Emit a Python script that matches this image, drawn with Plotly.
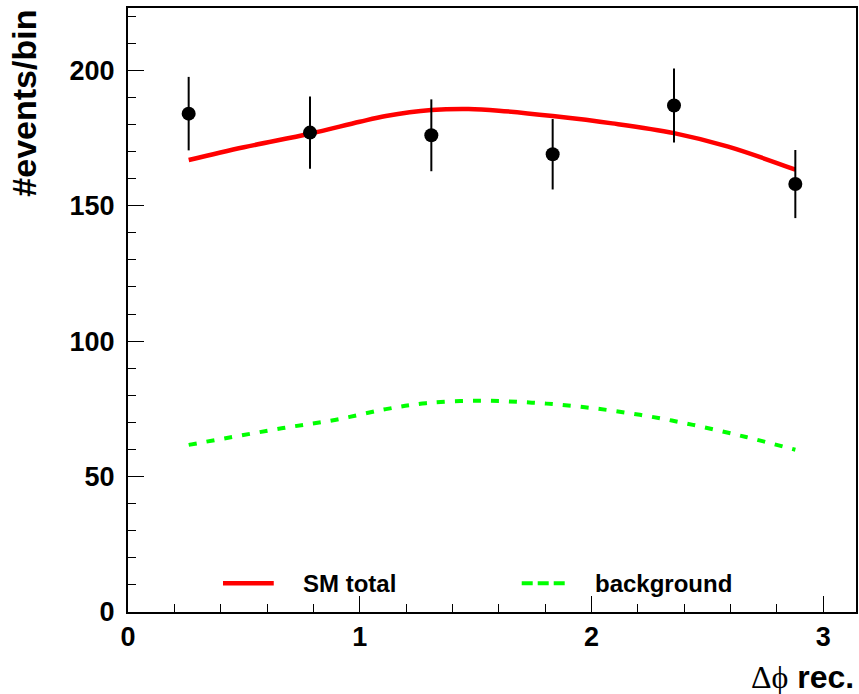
import numpy as np
import plotly.graph_objects as go

# Observed events per Δφ bin (6 bins over [0, π])
n_bins = 6
bin_centers = [(k + 0.5) * np.pi / n_bins for k in range(n_bins)]
data_counts = [184, 177, 176, 169, 187, 158]
data_errors = [np.sqrt(v) for v in data_counts]

# SM total prediction
sm_x = [0.262, 0.50, 0.785, 1.00, 1.113, 1.309, 1.47, 1.60, 1.833, 2.09, 2.356, 2.59, 2.880]
sm_y = [166.9, 171.6, 176.6, 181.0, 183.1, 185.3, 185.7, 185.1, 183.1, 180.4, 176.8, 171.8, 163.3]

# Background prediction
bg_x = [0.262, 0.669, 0.898, 1.113, 1.285, 1.514, 1.743, 1.972, 2.209, 2.438, 2.667, 2.880]
bg_y = [61.7, 67.9, 71.0, 74.9, 77.1, 78.0, 77.3, 75.6, 72.8, 69.1, 64.6, 59.9]

FONT = "Liberation Sans"

fig = go.Figure()

fig.add_trace(go.Scatter(
    x=bg_x, y=bg_y, mode="lines", line_shape="spline",
    line=dict(color="#00ff00", width=4, dash="8px,10px"),
    showlegend=False, hoverinfo="skip",
))
fig.add_trace(go.Scatter(
    x=sm_x, y=sm_y, mode="lines", line_shape="spline",
    line=dict(color="#ff0000", width=4.5),
    showlegend=False, hoverinfo="skip",
))
fig.add_trace(go.Scatter(
    x=bin_centers, y=data_counts, mode="markers",
    marker=dict(color="black", size=14),
    error_y=dict(type="data", array=data_errors, color="black", thickness=2, width=0),
    showlegend=False,
))

# Legend drawn inside the frame
LEG_Y = 10.6
fig.add_shape(type="line", xref="x", yref="y", x0=0.410, x1=0.629, y0=LEG_Y, y1=LEG_Y,
              line=dict(color="#ff0000", width=4.5))
fig.add_shape(type="line", xref="x", yref="y", x0=1.699, x1=1.888, y0=LEG_Y, y1=LEG_Y,
              line=dict(color="#00ff00", width=4, dash="11px,5px"))
fig.add_annotation(xref="x", yref="y", x=0.745, y=LEG_Y, text="<b>SM total</b>",
                   showarrow=False, xanchor="left", yanchor="middle",
                   font=dict(family=FONT, size=24, color="black"))
fig.add_annotation(xref="x", yref="y", x=2.005, y=LEG_Y, text="<b>background</b>",
                   showarrow=False, xanchor="left", yanchor="middle",
                   font=dict(family=FONT, size=24, color="black"))

# Axis titles
fig.add_annotation(xref="paper", yref="paper", x=-0.144, y=1.0,
                   text="<b>#events/bin</b>", textangle=-90, showarrow=False,
                   xanchor="center", yanchor="top",
                   font=dict(family=FONT, size=34, color="black"))
fig.add_annotation(xref="paper", yref="paper", x=1.0, y=-0.108,
                   text="<span style='font-family:Liberation Serif'>Δϕ</span> <b>rec.</b>",
                   showarrow=False, xanchor="right", yanchor="middle",
                   font=dict(family=FONT, size=32, color="black"))

axis_common = dict(
    showline=True, linecolor="black", linewidth=2, mirror=True,
    showgrid=False, zeroline=False,
    ticks="inside", ticklen=16, tickwidth=1, tickcolor="black",
    tickfont=dict(family=FONT, size=27, color="black", weight="bold"),
)

fig.update_xaxes(
    range=[0, np.pi], tickmode="array", tickvals=[0, 1, 2, 3], ticktext=["0", "1", "2", "3"],
    minor=dict(ticks="inside", ticklen=8, tickwidth=1, tickcolor="black", dtick=0.2, tick0=0),
    ticklabelstandoff=0,
    **axis_common,
)
fig.update_yaxes(
    range=[0, 223], tickmode="array", tickvals=[0, 50, 100, 150, 200],
    ticktext=["0", "50", "100", "150", "200"],
    minor=dict(ticks="inside", ticklen=8, tickwidth=1, tickcolor="black", dtick=10, tick0=0),
    ticklabelstandoff=6,
    **axis_common,
)

fig.update_layout(
    width=859, height=694,
    margin=dict(l=128, r=1, t=8, b=82),
    paper_bgcolor="white", plot_bgcolor="white",
    showlegend=False,
)

fig.write_html("out.html")
